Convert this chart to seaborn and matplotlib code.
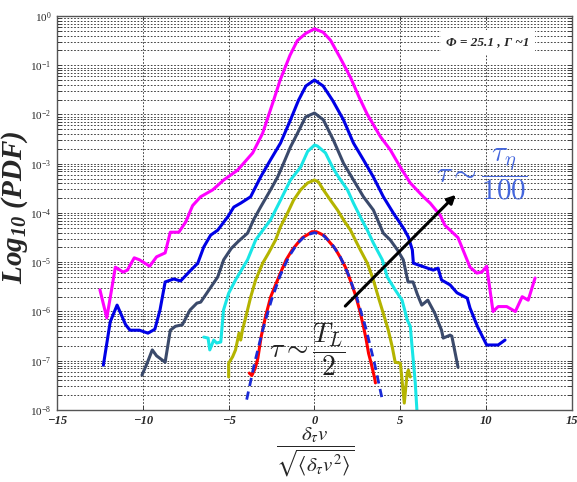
import numpy as np
import matplotlib
matplotlib.use('Agg')
import matplotlib.pyplot as plt
import matplotlib.ticker as mticker
import seaborn as sns

# values: x and log10(PDF) for each curve
mag_x = [-12.5, -12.1, -11.6, -11.15, -10.9, -10.5, -10.2, -9.6, -9.2, -8.7, -8.4, -7.9, -7.5, -7.1,
         -6.63, -5.93, -5.29, -4.48, -3.6, -3.02, -2.38, -2.0, -1.43, -1.0, -0.5, 0.0, 0.5, 0.93, 1.5,
         2.1, 2.6, 3.08, 3.84, 4.42, 5.0, 5.58, 6.34, 6.74, 7.33, 7.6, 8.36, 9.06, 9.46, 9.75, 10.03,
         10.4, 10.7, 11.2, 11.7, 12.1, 12.45, 12.85]
mag_logy = [-5.56, -6.13, -5.10, -5.20, -5.16, -4.91, -4.95, -5.08, -4.89, -4.81, -4.39, -4.39, -4.18, -3.85,
            -3.67, -3.53, -3.33, -3.13, -2.78, -2.38, -1.71, -1.30, -0.80, -0.50, -0.35, -0.26, -0.33, -0.49, -0.85,
            -1.25, -1.65, -2.00, -2.45, -2.72, -3.07, -3.39, -3.67, -3.80, -4.05, -4.25, -4.50, -5.10, -5.22, -5.20, -5.08,
            -6.00, -5.90, -5.90, -6.00, -5.70, -5.77, -5.32]

blue_x = [-12.3, -11.9, -11.5, -11.0, -10.75, -10.2, -9.7, -9.3, -9.0, -8.7, -8.2, -7.8, -7.2, -6.8,
          -6.45, -6.05, -5.64, -5.06, -4.7, -4.3, -3.72, -3.14, -2.56, -1.98, -1.4, -0.93, -0.5, 0.0,
          0.5, 1.05, 1.69, 2.27, 2.85, 3.43, 4.01, 4.59, 5.17, 5.47, 5.7, 5.76, 6.34, 6.92, 7.2, 7.4,
          7.9, 8.3, 8.9, 9.06, 9.5, 10.03, 10.7, 11.1]
blue_logy = [-7.09, -6.21, -5.87, -6.27, -6.38, -6.38, -6.44, -6.36, -5.97, -5.40, -5.34, -5.38, -5.16, -5.02,
             -4.69, -4.45, -4.35, -4.08, -3.88, -3.80, -3.67, -3.27, -2.92, -2.58, -2.11, -1.71, -1.42, -1.30,
             -1.42, -1.71, -2.11, -2.58, -2.92, -3.27, -3.67, -4.00, -4.30, -4.49, -4.75, -5.02, -5.09, -5.16, -5.12, -5.36,
             -5.46, -5.62, -5.73, -5.93, -6.31, -6.68, -6.68, -6.58]

slate_x = [-10.05, -9.75, -9.45, -9.2, -8.7, -8.4, -8.1, -7.7, -7.25, -6.85, -6.63, -5.64, -5.29, -4.85,
           -4.45, -3.9, -3.55, -3.14, -2.56, -2.15, -1.8, -1.4, -0.99, -0.52, 0.0, 0.52, 1.1, 1.69, 2.27,
           2.85, 3.43, 4.01, 4.42, 4.83, 5.17, 5.45, 5.74, 6.0, 6.25, 6.6, 7.0, 7.4, 7.5, 7.9, 8.0, 8.36]
slate_logy = [-7.29, -7.05, -6.78, -6.90, -7.03, -6.38, -6.30, -6.27, -5.97, -5.83, -5.81, -5.30, -4.95, -4.72,
              -4.58, -4.41, -4.14, -3.88, -3.53, -3.27, -2.99, -2.66, -2.38, -2.05, -1.97, -2.11, -2.52, -2.99, -3.33,
              -3.67, -3.94, -4.41, -4.55, -4.75, -4.95, -5.40, -5.40, -5.66, -5.87, -5.77, -6.03, -6.38, -6.54, -6.48, -6.50, -7.13]

cyan_x = [-6.45, -6.2, -6.1, -5.87, -5.7, -5.46, -5.3, -5.0, -4.6, -3.9, -3.43, -3.14, -2.56, -1.98,
          -1.4, -0.81, -0.4, 0.0, 0.17, 0.64, 1.05, 1.4, 1.92, 2.27, 2.67, 3.08, 3.43, 3.95, 4.24, 4.7,
          5.1, 5.3, 5.4, 5.58, 5.7, 5.87, 6.0]
cyan_logy = [-6.52, -6.54, -6.78, -6.58, -6.64, -6.62, -5.97, -5.63, -5.36, -4.95, -4.55, -4.41, -4.14, -3.74,
             -3.33, -3.07, -2.75, -2.62, -2.64, -2.78, -3.07, -3.27, -3.53, -3.80, -4.08, -4.35, -4.61, -4.95, -5.30, -5.56,
             -5.77, -6.03, -6.17, -6.30, -6.78, -7.45, -8.20]

olive_x = [-5.0, -5.0, -4.77, -4.6, -4.4, -4.3, -4.2, -4.0, -3.72, -3.43, -3.02, -2.67, -2.27, -1.98,
           -1.57, -1.22, -0.81, -0.4, 0.0, 0.23, 0.52, 0.93, 1.34, 1.69, 2.1, 2.38, 2.67, 3.08, 3.43,
           3.72, 4.0, 4.3, 4.53, 4.7, 5.0, 5.1, 5.23, 5.4, 5.47, 5.58]
olive_logy = [-7.33, -7.05, -6.92, -6.78, -6.44, -6.58, -6.38, -6.11, -5.71, -5.36, -5.02, -4.81, -4.55, -4.28,
              -4.00, -3.74, -3.53, -3.39, -3.33, -3.37, -3.53, -3.74, -3.94, -4.14, -4.35, -4.55, -4.75, -5.02, -5.36,
              -5.71, -6.03, -6.38, -6.72, -7.03, -7.05, -7.39, -7.86, -7.25, -7.19, -7.33]

red_x = [-3.8, -3.65, -3.45, -3.3, -3.1, -2.85, -2.55, -2.2, -1.9, -1.65, -1.3, -1.0, -0.7, -0.4, -0.15,
         0.1, 0.35, 0.6, 0.9, 1.2, 1.5, 1.8, 2.1, 2.4, 2.65, 2.85, 3.0, 3.15, 3.3, 3.4, 3.5, 3.55]
red_logy = [-7.25, -7.30, -7.15, -6.95, -6.50, -6.10, -5.70, -5.40, -5.15, -4.95, -4.75, -4.62, -4.50, -4.44, -4.38,
            -4.38, -4.42, -4.47, -4.60, -4.72, -4.90, -5.10, -5.38, -5.68, -6.00, -6.30, -6.55, -6.85, -7.05, -7.20, -7.35, -7.45]

fit_x = [-3.95, -3.5, -3.0, -2.5, -2.0, -1.5, -1.0, -0.5, 0.0, 0.5, 1.0, 1.5, 2.0, 2.5, 3.0, 3.5, 3.95]
fit_logy = [-7.79, -7.06, -6.35, -5.76, -5.27, -4.89, -4.62, -4.45, -4.40, -4.45, -4.62, -4.89, -5.27, -5.76,
            -6.35, -7.06, -7.79]

arrow_start = (1.68, 10 ** -5.93)
arrow_end = (8.35, 10 ** -3.59)

sns.set_style('ticks')
plt.rcParams['font.family'] = ['Liberation Serif', 'DejaVu Serif']
plt.rcParams['mathtext.fontset'] = 'custom'
plt.rcParams['mathtext.rm'] = 'Liberation Serif:italic:bold'
plt.rcParams['mathtext.it'] = 'Liberation Serif:italic:bold'
plt.rcParams['mathtext.bf'] = 'Liberation Serif:italic:bold'

fig = plt.figure(figsize=(5.77, 4.82), dpi=100)
ax = fig.add_axes([0.0988, 0.1494, 0.8925, 0.8174])

curves = [
    (mag_x, mag_logy, '#ff00ff'),
    (blue_x, blue_logy, '#0000e6'),
    (slate_x, slate_logy, '#3b4a6b'),
    (cyan_x, cyan_logy, '#19e6e6'),
    (olive_x, olive_logy, '#b4b400'),
    (red_x, red_logy, '#ff0000'),
]
for xs, ly, col in curves:
    sns.lineplot(x=xs, y=10 ** np.array(ly), sort=False, estimator=None,
                 color=col, lw=2.2, ax=ax)
sns.lineplot(x=fit_x, y=10 ** np.array(fit_logy), sort=False, estimator=None,
             color='#1a2ad6', lw=2.0, linestyle=(0, (3, 2)), ax=ax)

ax.set_yscale('log')
ax.set_xlim(-15, 15)
ax.set_ylim(1e-8, 1)
ax.xaxis.set_major_locator(mticker.MultipleLocator(5))
ax.yaxis.set_major_locator(mticker.LogLocator(base=10, numticks=12))
ax.yaxis.set_minor_locator(mticker.LogLocator(base=10, subs=np.arange(2, 10), numticks=12))
ax.yaxis.set_minor_formatter(mticker.NullFormatter())

ax.grid(which='major', axis='both', ls=(0, (2, 2)), color='#222222', lw=0.6)
ax.grid(which='minor', axis='y', ls=(0, (2, 2)), color='#222222', lw=0.6)
ax.tick_params(which='both', direction='in', top=True, right=True, length=3, width=0.6)
ax.tick_params(axis='y', labelsize=8, pad=4)
for lab in ax.get_xticklabels():
    lab.set_fontweight('bold')
    lab.set_fontstyle('italic')
    lab.set_fontsize(9)
for sp in ax.spines.values():
    sp.set_color('#555555')
    sp.set_linewidth(1.0)

ax.set_ylabel(r'Log$_{10}$ (PDF)', fontsize=21, fontweight='bold', fontstyle='italic')
ax.yaxis.set_label_coords(-0.052, 0.515)

fig.text(0.546, 0.062, r'$\dfrac{\delta_\tau v}{\sqrt{\langle \delta_\tau v^2 \rangle}}$',
         math_fontfamily='stix', fontsize=15, ha='center', va='center')

ax.text(0.837, 0.934, r'Φ = 25.1 , Γ ~1', transform=ax.transAxes, ha='center', va='center',
        fontsize=9.5, fontweight='bold', fontstyle='italic',
        bbox=dict(facecolor='white', edgecolor='none', pad=4))

ax.text(0.825, 0.598, r'$\tau \sim \dfrac{\tau_\eta}{100}$', transform=ax.transAxes,
        ha='center', va='center', math_fontfamily='cm', fontsize=21, color='#4466dd')
ax.text(0.487, 0.152, r'$\tau \sim \dfrac{T_L}{2}$', transform=ax.transAxes,
        ha='center', va='center', math_fontfamily='cm', fontsize=20, color='#222222')

ax.annotate('', xy=arrow_end, xytext=arrow_start,
            arrowprops=dict(arrowstyle='-|>', lw=2.2, color='black', mutation_scale=12))

fig.savefig('out.png', dpi=100)
